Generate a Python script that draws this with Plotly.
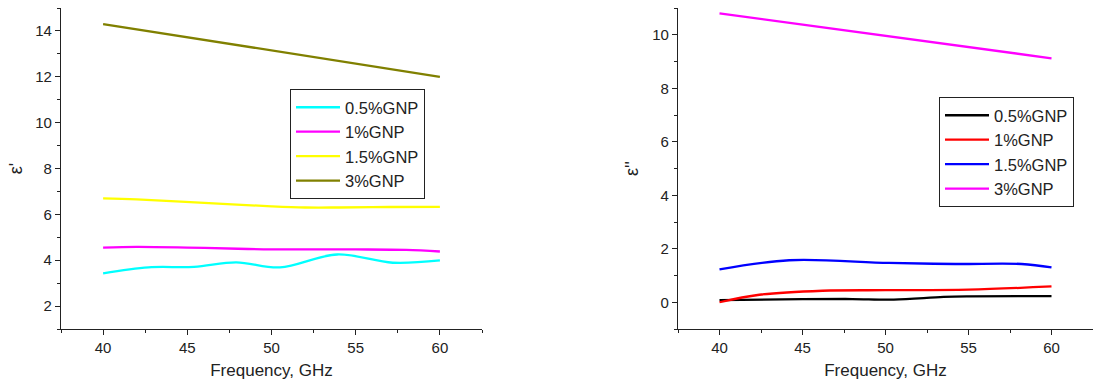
import plotly.graph_objects as go

labels = ["0.5%GNP", "1%GNP", "1.5%GNP", "3%GNP"]

# Left panel: real permittivity
f_a = [40, 42.7, 45.4, 47.9, 50.5, 53.9, 57.2, 60]
eps1_05 = [3.43, 3.69, 3.71, 3.91, 3.69, 4.25, 3.89, 3.99]
f_b = [40, 42, 45, 48, 50, 55, 58, 60]
eps1_1 = [4.55, 4.58, 4.55, 4.50, 4.47, 4.47, 4.45, 4.38]
f_c = [40, 42, 46, 50, 52, 54, 57, 60]
eps1_15 = [6.70, 6.65, 6.50, 6.35, 6.30, 6.30, 6.32, 6.33]
f_d = [40, 60]
eps1_3 = [14.3, 12.0]

# Right panel: imaginary permittivity
f_e = [40, 45, 48, 50.5, 53.5, 55, 60]
eps2_05 = [0.08, 0.12, 0.12, 0.10, 0.20, 0.22, 0.23]
f_g = [40, 42.4, 46.2, 50, 55, 60]
eps2_1 = [0.00, 0.28, 0.43, 0.45, 0.47, 0.59]
f_h = [40, 44.2, 50.2, 54.2, 58.2, 60]
eps2_15 = [1.23, 1.57, 1.47, 1.43, 1.43, 1.30]
f_i = [40, 60]
eps2_3 = [10.8, 9.12]

colors_left = ["#00FFFF", "#FF00FF", "#FFFF00", "#808000"]
colors_right = ["#000000", "#FF0000", "#0000FF", "#FF00FF"]

fig = go.Figure()
left = [(f_a, eps1_05), (f_b, eps1_1), (f_c, eps1_15), (f_d, eps1_3)]
for (x, y), c, n in zip(left, colors_left, labels):
    fig.add_trace(go.Scatter(x=x, y=y, mode="lines", name=n,
                             line=dict(color=c, width=2.3, shape="spline", smoothing=1.0),
                             xaxis="x", yaxis="y", legend="legend"))
right = [(f_e, eps2_05), (f_g, eps2_1), (f_h, eps2_15), (f_i, eps2_3)]
for (x, y), c, n in zip(right, colors_right, labels):
    fig.add_trace(go.Scatter(x=x, y=y, mode="lines", name=n,
                             line=dict(color=c, width=2.3, shape="spline", smoothing=1.0),
                             xaxis="x2", yaxis="y2", legend="legend2"))

font = "Liberation Sans, Arial, sans-serif"
axis_common = dict(showline=True, linecolor="#222", linewidth=1.3, ticks="outside",
                   ticklen=5, tickwidth=1.2, tickcolor="#222", showgrid=False, zeroline=False,
                   tickfont=dict(family=font, size=15, color="#222"), mirror=False,
                   automargin=False)

ydom = [54/383, 375/383]
fig.update_layout(
    width=1093, height=383,
    margin=dict(l=0, r=0, t=0, b=0, autoexpand=False),
    paper_bgcolor="white", plot_bgcolor="white",
    font=dict(family=font, color="#222"),
    xaxis=dict(domain=[61/1093, 482/1093], range=[37.5, 62.5], tick0=40, dtick=5,
               minor=dict(ticks="outside", ticklen=3, dtick=2.5, tick0=40, tickcolor="#222"),
               title=dict(text="Frequency, GHz", font=dict(size=17, family=font), standoff=8),
               anchor="y", **axis_common),
    yaxis=dict(domain=ydom, range=[1, 15], tick0=2, dtick=2,
               minor=dict(ticks="outside", ticklen=3, dtick=1, tick0=1, tickcolor="#222"),
               title=dict(text="ε'", font=dict(size=18, family=font), standoff=7),
               anchor="x", **axis_common),
    xaxis2=dict(domain=[678/1093, 1.0], range=[37.5, 62.5], tick0=40, dtick=5,
                minor=dict(ticks="outside", ticklen=3, dtick=2.5, tick0=40, tickcolor="#222"),
                title=dict(text="Frequency, GHz", font=dict(size=17, family=font), standoff=8),
                anchor="y2", **axis_common),
    yaxis2=dict(domain=ydom, range=[-1, 11], tick0=0, dtick=2,
                minor=dict(ticks="outside", ticklen=3, dtick=1, tick0=-1, tickcolor="#222"),
                title=dict(text="ε''", font=dict(size=18, family=font), standoff=8),
                anchor="x2", **axis_common),
    legend=dict(x=290/1093, y=(383-89)/383, xanchor="left", yanchor="top",
                bordercolor="#222", borderwidth=1, bgcolor="white", itemwidth=44,
                font=dict(size=16.5, family=font, color="#222")),
    legend2=dict(x=939/1093, y=(383-97)/383, xanchor="left", yanchor="top",
                 bordercolor="#222", borderwidth=1, bgcolor="white", itemwidth=44,
                 font=dict(size=16.5, family=font, color="#222")),
)

fig.write_html("out.html", config={"displayModeBar": False},
               post_script="document.body.style.margin='0';document.body.style.overflow='hidden';")
